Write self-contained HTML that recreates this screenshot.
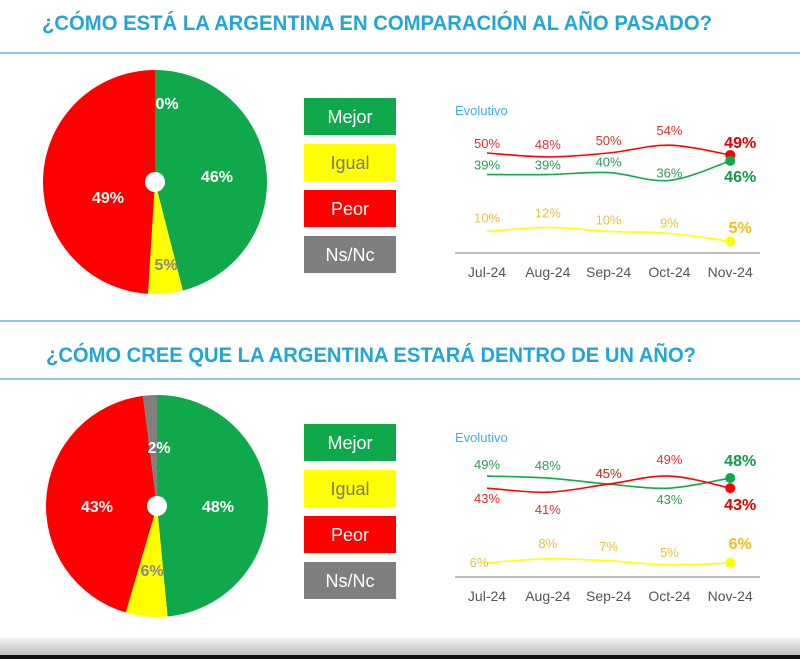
<!DOCTYPE html>
<html><head><meta charset="utf-8"><style>
html,body{margin:0;padding:0;background:#fff;width:800px;height:659px;overflow:hidden}
svg{display:block}
</style></head><body>
<svg id="s" width="800" height="659" viewBox="0 0 800 659" xmlns="http://www.w3.org/2000/svg" font-family="'Liberation Sans Narrow','Liberation Sans',sans-serif">
<defs><linearGradient id="gb" x1="0" y1="0" x2="0" y2="1"><stop offset="0" stop-color="#f2f2f2"/><stop offset="1" stop-color="#bdbdbd"/></linearGradient></defs>
<text x="42" y="30" font-size="21" font-weight="bold" fill="#22a6d6" textLength="670" lengthAdjust="spacingAndGlyphs">¿CÓMO ESTÁ LA ARGENTINA EN COMPARACIÓN AL AÑO PASADO?</text>
<rect x="0" y="52" width="800" height="2" fill="#8cc9dc"/>
<rect x="0" y="320" width="800" height="2" fill="#8cc9dc"/>
<text x="46" y="362" font-size="21" font-weight="bold" fill="#22a6d6" textLength="650" lengthAdjust="spacingAndGlyphs">¿CÓMO CREE QUE LA ARGENTINA ESTARÁ DENTRO DE UN AÑO?</text>
<rect x="0" y="378" width="800" height="2" fill="#8cc9dc"/>
<rect x="0" y="638" width="800" height="17" fill="url(#gb)"/>
<rect x="0" y="655" width="800" height="4" fill="#111"/>
<g id="root"></g>
</svg>
<script>
// Panel 1 data
const cats = ["Jul-24","Aug-24","Sep-24","Oct-24","Nov-24"];
const pie1Labels = ["Mejor","Igual","Peor","Ns/Nc"];
const pie1Values = [46,5,49,0];
const pie2Values = [48,6,43,2];
const evo1Mejor = [39,39,40,36,46];
const evo1Igual = [10,12,10,9,5];
const evo1Peor = [50,48,50,54,49];
const evo2Mejor = [49,48,45,43,48];
const evo2Igual = [6,8,7,5,6];
const evo2Peor = [43,41,45,49,43];

const NS="http://www.w3.org/2000/svg";
const root=document.getElementById('root');
const COL={Mejor:"#0fa84a",Igual:"#ffff00",Peor:"#ff0000","Ns/Nc":"#7f7f7f"};
const TXT={Mejor:"#2a9c55",Igual:"#e8c43a",Peor:"#e0302f"};
const TXTB={Mejor:"#139a48",Igual:"#f0bd1c",Peor:"#e00000"};
function el(t,a,p){const e=document.createElementNS(NS,t);for(const k in a)e.setAttribute(k,a[k]);(p||root).appendChild(e);return e;}

function pie(cx,cy,r,vals,name,labelPos){
  const g=el('g',{});
  
  
  const tot=vals.reduce((a,b)=>a+b,0);
  let a0=0;
  vals.forEach((v,i)=>{
    const a1=a0+v/tot*2*Math.PI;
    if(v>0){
      const x0=cx+r*Math.sin(a0),y0=cy-r*Math.cos(a0),x1=cx+r*Math.sin(a1),y1=cy-r*Math.cos(a1);
      const p=el('path',{d:`M${cx},${cy}L${x0},${y0}A${r},${r} 0 ${a1-a0>Math.PI?1:0} 1 ${x1},${y1}Z`,fill:COL[pie1Labels[i]]},g);
      
      
    }
    a0=a1;
  });
  el('circle',{cx:cx,cy:cy,r:10,fill:"#fff"},g);
  vals.forEach((v,i)=>{
    const lp=labelPos[i];
    const t=el('text',{x:lp[0],y:lp[1],'font-size':16,'font-weight':'bold',fill:'#fff','text-anchor':'middle','font-family':"'Liberation Sans',sans-serif"},g);
    if(i==1) t.setAttribute('fill','#888');
    t.textContent=v+"%";
    
    
  });
}
pie(155,182,112,pie1Values,'pie-chart-now',[[217,182],[166,270],[108,203],[167,109]]);
pie(157,506,111,pie2Values,'pie-chart-future',[[218,512],[152,576],[97,512],[159,453]]);

function legend(y0,name){
  const g=el('g',{});
  
  
  pie1Labels.forEach((l,i)=>{
    const y=y0+i*46;
    const r=el('rect',{x:304,y:y,width:92,height:37,fill:COL[l]},g);
    
    
    const t=el('text',{x:350,y:y+25,'font-size':18,fill:l=="Igual"?"#777":"#fff",'text-anchor':'middle'},g);
    t.textContent=l;
    
    
  });
}
legend(98,'legend-now');
legend(424,'legend-future');

function smooth(pts){
  let d=`M${pts[0][0]},${pts[0][1]}`;
  for(let i=0;i<pts.length-1;i++){
    const p0=pts[Math.max(i-1,0)],p1=pts[i],p2=pts[i+1],p3=pts[Math.min(i+2,pts.length-1)];
    const c1=[p1[0]+(p2[0]-p0[0])/6,p1[1]+(p2[1]-p0[1])/6],c2=[p2[0]-(p3[0]-p1[0])/6,p2[1]-(p3[1]-p1[1])/6];
    d+=`C${c1[0]},${c1[1]} ${c2[0]},${c2[1]} ${p2[0]},${p2[1]}`;
  }
  return d;
}
function evo(top,axisY,k,series,name){
  const g=el('g',{});
  
  
  const xs=i=>487+i*60.8;
  const ys=v=>axisY-2-v*k;
  const t=el('text',{x:455,y:top,'font-size':13,fill:'#3fb0e0','font-family':"'Liberation Sans',sans-serif"},g);
  t.textContent="Evolutivo";
  
  
  const ax=el('line',{x1:455,x2:760,y1:axisY,y2:axisY,stroke:'#999','stroke-width':1.2},g);
  
  
  cats.forEach((c,i)=>{
    const tt=el('text',{x:xs(i),y:axisY+24,'font-size':14,fill:'#555','text-anchor':'middle'},g);
    tt.textContent=c;
    
    
  });
  series.forEach(s=>{
    const pts=s.vals.map((v,i)=>[xs(i),ys(v)]);
    const p=el('path',{d:smooth(pts),fill:'none',stroke:COL[s.key],'stroke-width':1.6},g);
    
    
    const last=pts[pts.length-1];
    const dot=el('circle',{cx:last[0],cy:last[1],r:5,fill:COL[s.key]},g);
    
    
    s.vals.forEach((v,i)=>{
      const isLast=i==s.vals.length-1;
      const off=isLast?s.offLast:s.off[i];
      const lx=pts[i][0]+(isLast?10:(s.dx?s.dx[i]:0));
      const lb=el('text',{x:lx,y:pts[i][1]+off,'font-size':isLast?16:13,'font-weight':isLast?'bold':'normal',fill:isLast?TXTB[s.key]:TXT[s.key],'text-anchor':'middle'},g);
      lb.textContent=v+"%";
      
      
    });
  });
}
evo(115,253,1.96,[
  {key:'Peor',vals:evo1Peor,off:[-5,-8,-8,-10],offLast:-7},
  {key:'Mejor',vals:evo1Mejor,off:[-5,-5,-6,-3],offLast:21},
  {key:'Igual',vals:evo1Igual,off:[-9,-10,-7,-6],offLast:-8}
],'evolution-chart-now');
evo(442,577,2.02,[
  {key:'Mejor',vals:evo2Mejor,off:[-7,-8,-6,16],offLast:-12},
  {key:'Peor',vals:evo2Peor,off:[15,22,-6,-12],offLast:22},
  {key:'Igual',vals:evo2Igual,off:[4,-11,-10,-8],offLast:-14,dx:[-8,0,0,0]}
],'evolution-chart-future');
</script>
</body></html>
